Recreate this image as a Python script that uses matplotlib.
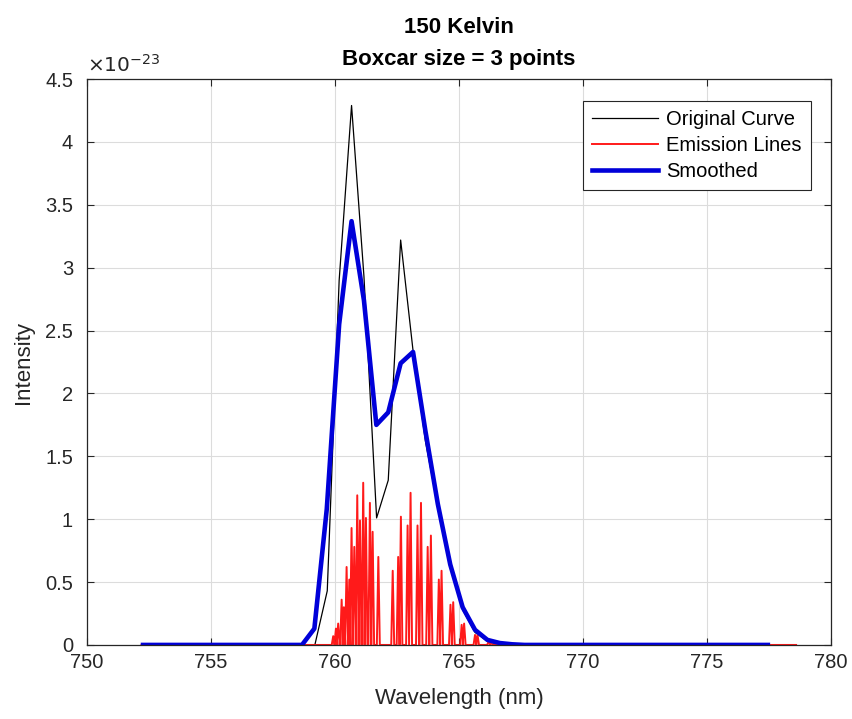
import numpy as np
import matplotlib
matplotlib.use('Agg')
import matplotlib.pyplot as plt
from matplotlib.ticker import FuncFormatter

plt.rcParams['font.family'] = ['Liberation Sans', 'DejaVu Sans']

# intensities are in units of 1e-23
# original (unsmoothed) curve
orig_wl = [752.2, 758.7, 759.19, 759.69, 760.17, 760.67, 761.17, 761.68, 762.15,
           762.65, 763.15, 763.65, 764.15, 764.65, 765.15, 765.65, 766.15, 766.65,
           777.46]
orig_int = [0, 0, 0, 0.43, 2.9, 4.29, 2.93, 1.01, 1.31,
            3.22, 2.34, 1.62, 1.1, 0.62, 0.28, 0.1, 0.03, 0.0,
            0]

# boxcar smoothed curve (3 points)
smooth_wl = [752.26, 758.67, 759.17, 759.67, 760.17, 760.67, 761.17, 761.67, 762.15,
             762.65, 763.15, 763.65, 764.15, 764.65, 765.15, 765.65, 766.15, 766.65,
             767.15, 767.65, 777.46]
smooth_int = [0, 0, 0.13, 1.08, 2.55, 3.37, 2.74, 1.75, 1.85,
              2.24, 2.33, 1.70, 1.12, 0.64, 0.30, 0.12, 0.04, 0.015,
              0.005, 0, 0]

# individual emission lines
line_wl = [759.93, 760.04, 760.13, 760.27, 760.36, 760.47, 760.58, 760.67, 760.78,
           760.90, 761.01, 761.14, 761.25, 761.41, 761.52, 761.75,
           762.33, 762.55, 762.66, 762.93, 763.05, 763.33, 763.47, 763.74, 763.87,
           764.19, 764.30, 764.66, 764.77, 765.11, 765.21, 765.65, 765.75, 766.2, 766.3]
line_int = [0.07, 0.13, 0.17, 0.36, 0.30, 0.62, 0.52, 0.93, 0.78,
            1.19, 0.99, 1.29, 1.01, 1.13, 0.90, 0.70,
            0.59, 0.70, 1.02, 0.95, 1.21, 0.95, 1.13, 0.78, 0.87,
            0.52, 0.59, 0.32, 0.34, 0.16, 0.17, 0.08, 0.08, 0.03, 0.02]
emis_start, emis_end = 752.2, 778.6

# build the emission spectrum as narrow spikes
half = 0.06
ex, ey = [emis_start], [0]
for c, h in zip(line_wl, line_int):
    ex += [c - half, c, c + half]
    ey += [0, h, 0]
ex.append(emis_end)
ey.append(0)

fig = plt.figure(figsize=(8.53, 7.19), dpi=100)
ax = fig.add_axes([0.102, 0.103, 0.872, 0.787])

ax.plot(orig_wl, orig_int, color='black', lw=0.9, label='Original Curve')
ax.plot(ex, ey, color='#ff1a1a', lw=1.4, label='Emission Lines')
ax.plot(smooth_wl, smooth_int, color=(0, 0, 0.85), lw=3.3, label='Smoothed')

ax.set_xlim(750, 780)
ax.set_ylim(0, 4.5)
ax.set_xticks(np.arange(750, 781, 5))
ax.set_yticks(np.arange(0, 4.51, 0.5))
ax.yaxis.set_major_formatter(FuncFormatter(lambda v, p: f'{v:g}'))
ax.grid(True, color='#dcdcdc', lw=0.8)
ax.set_axisbelow(True)
ax.tick_params(direction='in', top=True, right=True, labelsize=14.5, length=5,
               colors='#262626', labelcolor='#262626')
ax.tick_params(axis='y', pad=10)
ax.tick_params(axis='x', pad=6)
for s in ax.spines.values():
    s.set_color('#262626')
    s.set_linewidth(0.9)

ax.text(0.0, 1.005, r'$\times 10^{-23}$', transform=ax.transAxes, fontsize=14.5,
        color='#262626', ha='left', va='bottom')

ax.set_xlabel('Wavelength (nm)', fontsize=16, color='#262626', labelpad=11)
ax.set_ylabel('Intensity', fontsize=16, color='#262626', labelpad=8)
ax.set_title('150 Kelvin\nBoxcar size = 3 points', fontsize=16, fontweight='bold',
             linespacing=1.7, pad=10)

leg = ax.legend(loc='upper right', bbox_to_anchor=(0.973, 0.961), borderaxespad=0,
                fontsize=14.5, handlelength=3.3, fancybox=False, framealpha=1,
                edgecolor='#262626', borderpad=0.45, labelspacing=0.35,
                handletextpad=0.4)
leg.get_frame().set_linewidth(0.8)

fig.savefig('out.png', dpi=100)
